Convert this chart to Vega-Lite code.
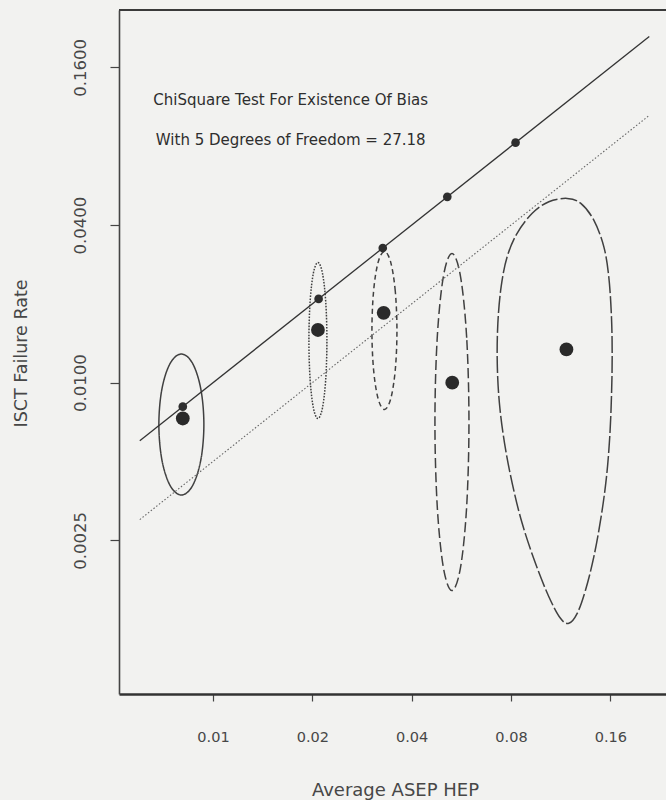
{
  "$schema": "https://vega.github.io/schema/vega-lite/v6.json",
  "autosize": {"type": "none"},
  "padding": {"left": 119, "top": 10, "right": 0, "bottom": 106},
  "width": 547,
  "height": 684,
  "background": "#f2f2f0",
  "config": {"view": {"stroke": null}, "font": "DejaVu Sans"},
  "datasets": {
    "regions": [
      {"g": "A", "i": 0, "x": 0.009384, "y": 0.006923},
      {"g": "A", "i": 1, "x": 0.009189, "y": 0.009440},
      {"g": "A", "i": 2, "x": 0.008675, "y": 0.011845},
      {"g": "A", "i": 3, "x": 0.008022, "y": 0.012872},
      {"g": "A", "i": 4, "x": 0.007415, "y": 0.011845},
      {"g": "A", "i": 5, "x": 0.007000, "y": 0.009440},
      {"g": "A", "i": 6, "x": 0.006855, "y": 0.006923},
      {"g": "A", "i": 7, "x": 0.007000, "y": 0.005078},
      {"g": "A", "i": 8, "x": 0.007415, "y": 0.004047},
      {"g": "A", "i": 9, "x": 0.008022, "y": 0.003724},
      {"g": "A", "i": 10, "x": 0.008675, "y": 0.004047},
      {"g": "A", "i": 11, "x": 0.009189, "y": 0.005078},
      {"g": "B", "i": 0, "x": 0.022144, "y": 0.014495},
      {"g": "B", "i": 1, "x": 0.02196, "y": 0.020428},
      {"g": "B", "i": 2, "x": 0.021462, "y": 0.026256},
      {"g": "B", "i": 3, "x": 0.020798, "y": 0.028788},
      {"g": "B", "i": 4, "x": 0.020154, "y": 0.026256},
      {"g": "B", "i": 5, "x": 0.019696, "y": 0.020428},
      {"g": "B", "i": 6, "x": 0.019531, "y": 0.014495},
      {"g": "B", "i": 7, "x": 0.019696, "y": 0.010285},
      {"g": "B", "i": 8, "x": 0.020154, "y": 0.008002},
      {"g": "B", "i": 9, "x": 0.020798, "y": 0.007298},
      {"g": "B", "i": 10, "x": 0.021462, "y": 0.008002},
      {"g": "B", "i": 11, "x": 0.02196, "y": 0.010285},
      {"g": "C", "i": 0, "x": 0.03610, "y": 0.015827},
      {"g": "C", "i": 1, "x": 0.035678, "y": 0.022404},
      {"g": "C", "i": 2, "x": 0.034556, "y": 0.028892},
      {"g": "C", "i": 3, "x": 0.033086, "y": 0.031712},
      {"g": "C", "i": 4, "x": 0.03167, "y": 0.028892},
      {"g": "C", "i": 5, "x": 0.030674, "y": 0.022404},
      {"g": "C", "i": 6, "x": 0.030318, "y": 0.015827},
      {"g": "C", "i": 7, "x": 0.030674, "y": 0.011181},
      {"g": "C", "i": 8, "x": 0.03167, "y": 0.008671},
      {"g": "C", "i": 9, "x": 0.033086, "y": 0.007900},
      {"g": "C", "i": 10, "x": 0.034556, "y": 0.008671},
      {"g": "C", "i": 11, "x": 0.035678, "y": 0.011181},
      {"g": "D", "i": 0, "x": 0.05967, "y": 0.007077},
      {"g": "D", "i": 1, "x": 0.05873, "y": 0.014849},
      {"g": "D", "i": 2, "x": 0.05623, "y": 0.025542},
      {"g": "D", "i": 3, "x": 0.05299, "y": 0.031158},
      {"g": "D", "i": 4, "x": 0.04994, "y": 0.025542},
      {"g": "D", "i": 5, "x": 0.04782, "y": 0.014849},
      {"g": "D", "i": 6, "x": 0.04706, "y": 0.007077},
      {"g": "D", "i": 7, "x": 0.04782, "y": 0.0033735},
      {"g": "D", "i": 8, "x": 0.04994, "y": 0.0019608},
      {"g": "D", "i": 9, "x": 0.05299, "y": 0.0016075},
      {"g": "D", "i": 10, "x": 0.05623, "y": 0.0019608},
      {"g": "D", "i": 11, "x": 0.05873, "y": 0.0033735},
      {"g": "E", "i": 0, "x": 0.1184, "y": 0.0506},
      {"g": "E", "i": 1, "x": 0.1300, "y": 0.0485},
      {"g": "E", "i": 2, "x": 0.1426, "y": 0.0418},
      {"g": "E", "i": 3, "x": 0.1529, "y": 0.0331},
      {"g": "E", "i": 4, "x": 0.1583, "y": 0.0254},
      {"g": "E", "i": 5, "x": 0.1613, "y": 0.01787},
      {"g": "E", "i": 6, "x": 0.1621, "y": 0.01257},
      {"g": "E", "i": 7, "x": 0.1613, "y": 0.00884},
      {"g": "E", "i": 8, "x": 0.1594, "y": 0.00622},
      {"g": "E", "i": 9, "x": 0.1558, "y": 0.00437},
      {"g": "E", "i": 10, "x": 0.1501, "y": 0.00308},
      {"g": "E", "i": 11, "x": 0.1426, "y": 0.00216},
      {"g": "E", "i": 12, "x": 0.1346, "y": 0.001615},
      {"g": "E", "i": 13, "x": 0.1270, "y": 0.001315},
      {"g": "E", "i": 14, "x": 0.1198, "y": 0.001205},
      {"g": "E", "i": 15, "x": 0.1130, "y": 0.001259},
      {"g": "E", "i": 16, "x": 0.1042, "y": 0.001522},
      {"g": "E", "i": 17, "x": 0.0949, "y": 0.002043},
      {"g": "E", "i": 18, "x": 0.0865, "y": 0.002903},
      {"g": "E", "i": 19, "x": 0.0807, "y": 0.004127},
      {"g": "E", "i": 20, "x": 0.0765, "y": 0.005868},
      {"g": "E", "i": 21, "x": 0.0738, "y": 0.008344},
      {"g": "E", "i": 22, "x": 0.0727, "y": 0.01186},
      {"g": "E", "i": 23, "x": 0.0730, "y": 0.01686},
      {"g": "E", "i": 24, "x": 0.0747, "y": 0.02327},
      {"g": "E", "i": 25, "x": 0.0779, "y": 0.03029},
      {"g": "E", "i": 26, "x": 0.0835, "y": 0.03722},
      {"g": "E", "i": 27, "x": 0.0928, "y": 0.04438},
      {"g": "E", "i": 28, "x": 0.1042, "y": 0.04914}
    ],
    "identity": [
      {"x": 0.006, "y": 0.006},
      {"x": 0.21, "y": 0.21}
    ],
    "half": [
      {"x": 0.006, "y": 0.003},
      {"x": 0.21, "y": 0.105}
    ],
    "predicted": [
      {"x": 0.0081, "y": 0.0081},
      {"x": 0.0209, "y": 0.0209},
      {"x": 0.0327, "y": 0.0327},
      {"x": 0.0513, "y": 0.0513},
      {"x": 0.0826, "y": 0.0826}
    ],
    "observed": [
      {"x": 0.0081, "y": 0.0073},
      {"x": 0.0208, "y": 0.0159},
      {"x": 0.0329, "y": 0.0185},
      {"x": 0.0531, "y": 0.0100},
      {"x": 0.1178, "y": 0.0134}
    ]
  },
  "layer": [
    {
      "encoding": {
        "x": {
          "field": "x", "type": "quantitative",
          "scale": {"type": "log", "domain": [0.00519, 0.236], "nice": false},
          "axis": {
            "values": [0.01, 0.02, 0.04, 0.08, 0.16], "format": ".2f", "grid": false,
            "title": "Average ASEP HEP",
            "domainColor": "#333333", "domainWidth": 2.5,
            "tickColor": "#444444", "tickWidth": 1.2, "tickSize": 7,
            "labelFont": "DejaVu Sans", "labelFontSize": 14.5, "labelColor": "#474747",
            "labelBaseline": "middle", "labelPadding": 36,
            "titleFont": "DejaVu Sans", "titleFontSize": 18, "titleFontWeight": "normal", "titleColor": "#474747",
            "titleX": 276, "titleY": 96, "titleBaseline": "middle", "titleAlign": "center"
          }
        },
        "y": {
          "field": "y", "type": "quantitative",
          "scale": {"type": "log", "domain": [0.000647, 0.2653], "nice": false},
          "axis": {
            "values": [0.0025, 0.01, 0.04, 0.16], "format": ".4f", "grid": false,
            "title": "ISCT Failure Rate",
            "domainColor": "#444444", "domainWidth": 1.6,
            "tickColor": "#444444", "tickWidth": 1.2, "tickSize": 9,
            "labelFont": "DejaVu Sans", "labelFontSize": 16.5, "labelColor": "#474747",
            "labelAngle": 270, "labelAlign": "center", "labelBaseline": "middle", "labelPadding": 30,
            "titleFont": "DejaVu Sans", "titleFontSize": 17.5, "titleFontWeight": "normal", "titleColor": "#474747",
            "titleAngle": 270, "titleX": -98, "titleY": 343, "titleBaseline": "middle", "titleAlign": "center"
          }
        }
      },
      "layer": [
        {
          "data": {"name": "regions"},
          "mark": {"type": "line", "interpolate": "cardinal-closed", "color": "#404040", "strokeWidth": 1.5},
          "encoding": {
            "order": {"field": "i", "type": "quantitative"},
            "strokeDash": {
              "field": "g", "type": "nominal", "legend": null,
              "scale": {"domain": ["A", "B", "C", "D", "E"], "range": [[1, 0], [1.6, 1.4], [5, 3.5], [10, 4], [17, 3]]}
            }
          }
        },
        {
          "data": {"name": "identity"},
          "mark": {"type": "line", "color": "#333333", "strokeWidth": 1.3},
          "encoding": {}
        },
        {
          "data": {"name": "half"},
          "mark": {"type": "line", "color": "#666666", "strokeWidth": 1.1, "strokeDash": [1.5, 2]},
          "encoding": {}
        },
        {
          "data": {"name": "predicted"},
          "mark": {"type": "point", "filled": true, "color": "#2e2e2e", "size": 75, "opacity": 1}
        },
        {
          "data": {"name": "observed"},
          "mark": {"type": "point", "filled": true, "color": "#2a2a2a", "size": 190, "opacity": 1}
        }
      ]
    },
    {
      "data": {"values": [{}]},
      "mark": {"type": "rule", "color": "#3a3a3a", "strokeWidth": 2},
      "encoding": {
        "y": {"datum": 0.2653, "type": "quantitative"}
      }
    },
    {
      "data": {"values": [{}]},
      "mark": {"type": "text", "font": "DejaVu Sans", "fontSize": 15, "color": "#2e2e2e", "align": "center", "baseline": "middle"},
      "encoding": {
        "x": {"datum": 0.0172, "type": "quantitative"},
        "y": {"datum": 0.1202, "type": "quantitative"},
        "text": {"value": "ChiSquare Test For Existence Of Bias"}
      }
    },
    {
      "data": {"values": [{}]},
      "mark": {"type": "text", "font": "DejaVu Sans", "fontSize": 15, "color": "#2e2e2e", "align": "center", "baseline": "middle"},
      "encoding": {
        "x": {"datum": 0.0172, "type": "quantitative"},
        "y": {"datum": 0.0846, "type": "quantitative"},
        "text": {"value": "With 5 Degrees of Freedom = 27.18"}
      }
    }
  ]
}
